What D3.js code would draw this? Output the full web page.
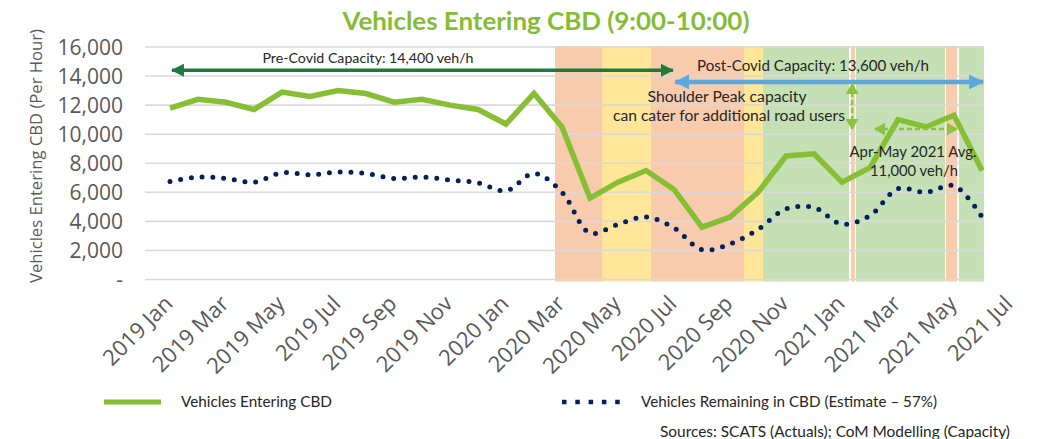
<!DOCTYPE html>
<html>
<head>
<meta charset="utf-8">
<script src="https://cdn.jsdelivr.net/npm/d3@7"></script>
<style>
html,body{margin:0;padding:0;background:#fff;}
svg{display:block;}
</style>
</head>
<body>
<svg id="chart" width="1043" height="439"></svg>
<script>
// ---------------- DATA ----------------
const months = ["2019 Jan","2019 Feb","2019 Mar","2019 Apr","2019 May","2019 Jun","2019 Jul","2019 Aug","2019 Sep","2019 Oct","2019 Nov","2019 Dec",
  "2020 Jan","2020 Feb","2020 Mar","2020 Apr","2020 May","2020 Jun","2020 Jul","2020 Aug","2020 Sep","2020 Oct","2020 Nov","2020 Dec",
  "2021 Jan","2021 Feb","2021 Mar","2021 Apr","2021 May","2021 Jun"];
const entering = [11800,12400,12200,11700,12900,12600,13000,12800,12200,12400,12000,11700,
  10700,12800,10500,5600,6700,7500,6200,3600,4300,6000,8500,8650,
  6700,7700,11000,10500,11300,7500];
const remaining = [6750,7050,6950,6700,7350,7200,7400,7300,6950,7050,6850,6650,
  6100,7300,6000,3200,3800,4300,3550,2050,2450,3450,4850,4950,
  3800,4400,6250,6000,6450,4300];
const tickLabels = ["2019 Jan","2019 Mar","2019 May","2019 Jul","2019 Sep","2019 Nov","2020 Jan","2020 Mar",
  "2020 May","2020 Jul","2020 Sep","2020 Nov","2021 Jan","2021 Mar","2021 May","2021 Jul"];
const tickIndex = [0,2,4,6,8,10,12,14,16,18,20,22,24,26,28,30];
const yTicks = [0,2000,4000,6000,8000,10000,12000,14000,16000];
// restriction periods (month-index units)
const bandStart = [13.75,15.43,17.18,20.50,21.18,24.32,24.50,27.71,28.18];
const bandEnd   = [15.43,17.18,20.50,21.18,24.25,24.46,27.68,28.11,29.07];
const bandType  = ["lock","ease","lock","ease","open","lock","open","lock","open"];
const preCovidCap = 14400, postCovidCap = 13600, shoulderLevel = 10350;

// ---------------- LAYOUT ----------------
const svg = d3.select("#chart");
const plotL = 145, plotR = 984, plotT = 47, plotB = 279.5;
const x = d3.scaleLinear().domain([0, 29]).range([170, 982]);
const y = d3.scaleLinear().domain([0, 16000]).range([plotB, plotT]);
const gray = "#595959";
const bandColor = {lock:"#F8CBAD", ease:"#FFE699", open:"#C5E0B4"};

// defs: arrow markers
const defs = svg.append("defs");
function marker(id, color, len, half){
  defs.append("marker").attr("id", id)
    .attr("markerUnits","userSpaceOnUse")
    .attr("viewBox", `0 ${-half} ${len} ${2*half}`)
    .attr("refX", len - 1).attr("refY", 0)
    .attr("markerWidth", len).attr("markerHeight", 2*half)
    .attr("orient","auto-start-reverse")
    .append("path").attr("d", `M0,${-half}L${len},0L0,${half}Z`).attr("fill", color);
}
marker("mDark", "#1E7B3E", 13, 6.5);
marker("mBlue", "#5BA8DE", 15, 7.5);
marker("mGreen", "#8BC43F", 11, 6.5);

// title
svg.append("text").attr("x", 546).attr("y", 30).attr("text-anchor","middle")
  .attr("font-family","Lato, sans-serif").attr("font-weight","bold").attr("font-size", 24)
  .attr("textLength", 407).attr("lengthAdjust","spacingAndGlyphs")
  .attr("fill","#84BD33").text("Vehicles Entering CBD (9:00-10:00)");

// bands
svg.append("g").selectAll("rect").data(bandStart).join("rect")
  .attr("x", (d) => x(d))
  .attr("width", (d,i) => x(bandEnd[i]) - x(d))
  .attr("y", plotT - 1).attr("height", plotB - plotT + 3)
  .attr("fill", (d,i) => bandColor[bandType[i]]);

// gridlines
svg.append("g").selectAll("line").data(yTicks).join("line")
  .attr("x1", plotL).attr("x2", plotR)
  .attr("y1", d => y(d)).attr("y2", d => y(d))
  .attr("stroke","#D9D9D9").attr("stroke-width", 1.6);

// y axis labels
svg.append("g").selectAll("text").data(yTicks).join("text")
  .attr("x", 123).attr("y", d => y(d)).attr("dy","0.36em")
  .attr("text-anchor","end").attr("font-family","'Open Sans', sans-serif")
  .attr("font-size", 21).attr("fill", gray)
  .text(d => d === 0 ? "-" : d3.format(",")(d));

// y axis title
svg.append("text").attr("transform","translate(42,156) rotate(-90)")
  .attr("text-anchor","middle").attr("font-family","'Open Sans', sans-serif")
  .attr("font-size", 16).attr("textLength", 254).attr("lengthAdjust","spacingAndGlyphs")
  .attr("fill", gray).text("Vehicles Entering CBD (Per Hour)");

// x axis labels
svg.append("g").selectAll("text").data(tickLabels).join("text")
  .attr("transform", (d,i) => `translate(${x(tickIndex[i]) + 4},${305}) rotate(-45)`)
  .attr("text-anchor","end").attr("font-family","'Open Sans', sans-serif")
  .attr("font-size", 22).attr("fill", gray).text(d => d);

// series lines
svg.append("path").datum(remaining)
  .attr("d", d3.line().x((d,i) => x(i)).y(d => y(d)).curve(d3.curveCatmullRom.alpha(0.5)))
  .attr("fill","none").attr("stroke","#002060").attr("stroke-width", 5)
  .attr("stroke-linecap","round").attr("stroke-dasharray","0 10.8");
svg.append("path").datum(entering)
  .attr("d", d3.line().x((d,i) => x(i)).y(d => y(d)))
  .attr("fill","none").attr("stroke","#86BF34").attr("stroke-width", 5.5)
  .attr("stroke-linejoin","miter");

// annotations
const ann = svg.append("g").attr("font-family","Lato, sans-serif").attr("fill","#262626");
// pre-covid capacity
svg.append("line").attr("x1", x(0.07)).attr("x2", x(17.96))
  .attr("y1", y(preCovidCap)).attr("y2", y(preCovidCap))
  .attr("stroke","#1E7B3E").attr("stroke-width", 3.5)
  .attr("marker-start","url(#mDark)").attr("marker-end","url(#mDark)");
ann.append("text").attr("x", 368).attr("y", 63).attr("text-anchor","middle")
  .attr("font-size", 14).attr("textLength", 211).attr("lengthAdjust","spacingAndGlyphs")
  .text("Pre-Covid Capacity: 14,400 veh/h");
// post-covid capacity
svg.append("line").attr("x1", x(18.04)).attr("x2", x(29.04))
  .attr("y1", y(postCovidCap)).attr("y2", y(postCovidCap))
  .attr("stroke","#5BA8DE").attr("stroke-width", 4.5)
  .attr("marker-start","url(#mBlue)").attr("marker-end","url(#mBlue)");
ann.append("text").attr("x", 813).attr("y", 71).attr("text-anchor","middle")
  .attr("font-size", 15.5).attr("textLength", 232).attr("lengthAdjust","spacingAndGlyphs")
  .text("Post-Covid Capacity: 13,600 veh/h");
// shoulder text
ann.append("text").attr("x", 727).attr("y", 102).attr("text-anchor","middle")
  .attr("font-size", 15.5).attr("textLength", 159).attr("lengthAdjust","spacingAndGlyphs")
  .text("Shoulder Peak capacity");
ann.append("text").attr("x", 729).attr("y", 121).attr("text-anchor","middle")
  .attr("font-size", 15.5).attr("textLength", 232).attr("lengthAdjust","spacingAndGlyphs")
  .text("can cater for additional road users");
// vertical gap arrow
svg.append("line").attr("x1", x(24.36)).attr("x2", x(24.36))
  .attr("y1", y(postCovidCap) + 2).attr("y2", y(shoulderLevel))
  .attr("stroke","#8BC43F").attr("stroke-width", 2.5).attr("stroke-dasharray","5 3")
  .attr("marker-start","url(#mGreen)").attr("marker-end","url(#mGreen)");
// Apr-May average arrow
svg.append("line").attr("x1", x(25.18)).attr("x2", x(28.1))
  .attr("y1", y(shoulderLevel)).attr("y2", y(shoulderLevel))
  .attr("stroke","#8BC43F").attr("stroke-width", 2.5).attr("stroke-dasharray","5 3")
  .attr("marker-start","url(#mGreen)").attr("marker-end","url(#mGreen)");
ann.append("text").attr("x", 913).attr("y", 157).attr("text-anchor","middle")
  .attr("font-size", 15.5).attr("textLength", 127).attr("lengthAdjust","spacingAndGlyphs")
  .text("Apr-May 2021 Avg.");
ann.append("text").attr("x", 914).attr("y", 176).attr("text-anchor","middle")
  .attr("font-size", 15.5).attr("textLength", 88).attr("lengthAdjust","spacingAndGlyphs")
  .text("11,000 veh/h");

// legend
const leg = svg.append("g").attr("font-family","Lato, sans-serif").attr("font-size", 15).attr("fill","#262626");
leg.append("line").attr("x1", 104).attr("x2", 161).attr("y1", 402).attr("y2", 402)
  .attr("stroke","#86BF34").attr("stroke-width", 5);
leg.append("text").attr("x", 181).attr("y", 407).attr("textLength", 151)
  .attr("lengthAdjust","spacingAndGlyphs").text("Vehicles Entering CBD");
leg.append("line").attr("x1", 562).attr("x2", 620).attr("y1", 402).attr("y2", 402)
  .attr("stroke","#002060").attr("stroke-width", 4.5).attr("stroke-dasharray","4.5 8.8");
leg.append("text").attr("x", 641).attr("y", 407).attr("textLength", 296)
  .attr("lengthAdjust","spacingAndGlyphs").text("Vehicles Remaining in CBD (Estimate \u2013 57%)");
leg.append("text").attr("x", 1010).attr("y", 437).attr("text-anchor","end").attr("textLength", 350)
  .attr("lengthAdjust","spacingAndGlyphs").text("Sources: SCATS (Actuals); CoM Modelling (Capacity)");
</script>
</body>
</html>
